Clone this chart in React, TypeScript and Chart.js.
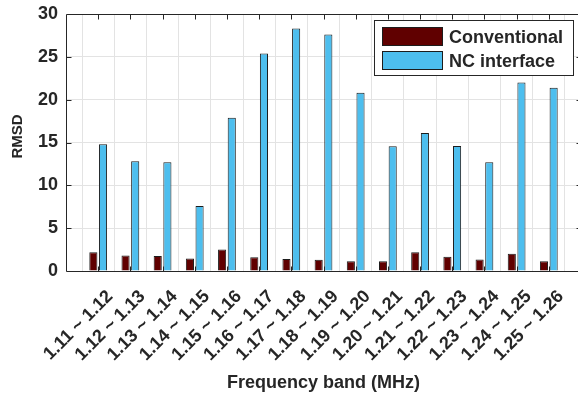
import React, { useEffect, useRef } from 'react';
import { Chart, registerables } from 'chart.js';

Chart.register(...registerables);

// Frequency bands (MHz)
const bands = [
  '1.11 ~ 1.12', '1.12 ~ 1.13', '1.13 ~ 1.14', '1.14 ~ 1.15', '1.15 ~ 1.16',
  '1.16 ~ 1.17', '1.17 ~ 1.18', '1.18 ~ 1.19', '1.19 ~ 1.20', '1.20 ~ 1.21',
  '1.21 ~ 1.22', '1.22 ~ 1.23', '1.23 ~ 1.24', '1.24 ~ 1.25', '1.25 ~ 1.26',
];

// RMSD per band
const conventional = [2.2, 1.8, 1.75, 1.45, 2.5, 1.6, 1.4, 1.3, 1.15, 1.15, 2.2, 1.65, 1.35, 2.0, 1.15];
const ncInterface = [14.8, 12.8, 12.7, 7.6, 17.9, 25.4, 28.3, 27.6, 20.8, 14.55, 16.1, 14.6, 12.7, 22.0, 21.4];

const seriesNames = ['Conventional', 'NC interface'];
const yTitle = 'RMSD';
const yMin = 0;
const yMax = 30;
const yStep = 5;

const INK = '#262626';
const FONT = '"Liberation Sans", Arial, Helvetica, sans-serif';

// Empty slots on both ends give a full band of space before the first and after the last group.
const paddedLabels = ['', ...bands, ''];
const pad = (v: number[]) => [null, ...v, null];

// Box around the axes with MATLAB-style inward tick marks.
const framePlugin = {
  id: 'frame',
  afterDatasetsDraw(chart: any) {
    const { ctx, chartArea: a, scales } = chart;
    const x = scales.x;
    const y = scales.y;
    const L = Math.round(a.left) + 0.5;
    const R = Math.round(a.right) + 0.5;
    const T = Math.round(a.top) + 0.5;
    const B = Math.round(a.bottom) + 0.5;
    const len = 5;
    ctx.save();
    ctx.strokeStyle = INK;
    ctx.lineWidth = 1;
    ctx.beginPath();
    ctx.rect(L, T, R - L, B - T);
    for (let i = 1; i <= bands.length; i++) {
      const px = Math.round(x.getPixelForValue(i)) + 0.5;
      ctx.moveTo(px, T);
      ctx.lineTo(px, T + len);
      ctx.moveTo(px, B);
      ctx.lineTo(px, B - len);
    }
    for (let v = yMin + yStep; v < yMax; v += yStep) {
      const py = Math.round(y.getPixelForValue(v)) + 0.5;
      ctx.moveTo(L, py);
      ctx.lineTo(L + len, py);
      ctx.moveTo(R, py);
      ctx.lineTo(R - len, py);
    }
    ctx.stroke();

    // Vertical axis title, placed slightly above the plot's middle
    ctx.fillStyle = INK;
    ctx.font = `bold 15px ${FONT}`;
    ctx.textAlign = 'center';
    ctx.textBaseline = 'middle';
    ctx.translate(18, a.top + (a.bottom - a.top) / 2 - 6);
    ctx.rotate(-Math.PI / 2);
    ctx.fillText(yTitle, 0, 0);
    ctx.restore();
  },
};

// Legend box in the upper right corner of the plot.
const legendPlugin = {
  id: 'boxLegend',
  afterDraw(chart: any) {
    const { ctx } = chart;
    const sets = chart.data.datasets;
    const box = { x: 374.5, y: 20.5, w: 199, h: 55 };
    ctx.save();
    ctx.fillStyle = '#ffffff';
    ctx.fillRect(box.x, box.y, box.w, box.h);
    ctx.strokeStyle = INK;
    ctx.lineWidth = 1;
    ctx.strokeRect(box.x, box.y, box.w, box.h);
    ctx.font = `bold 18px ${FONT}`;
    ctx.textAlign = 'left';
    ctx.textBaseline = 'alphabetic';
    sets.forEach((ds: any, i: number) => {
      const sy = 27.5 + i * 24;
      ctx.fillStyle = ds.backgroundColor;
      ctx.fillRect(382.5, sy, 60, 18);
      ctx.strokeStyle = ds.borderColor;
      ctx.strokeRect(382.5, sy, 60, 18);
      ctx.fillStyle = INK;
      ctx.fillText(ds.label, 449, sy + 15.5);
    });
    ctx.restore();
  },
};

export default function App() {
  const canvasRef = useRef<HTMLCanvasElement | null>(null);

  useEffect(() => {
    const canvas = canvasRef.current;
    if (!canvas) return;
    const chart = new Chart(canvas, {
      type: 'bar',
      data: {
        labels: paddedLabels,
        datasets: [
          {
            label: seriesNames[0],
            data: pad(conventional),
            backgroundColor: '#600000',
            borderColor: '#1c1c1c',
            borderWidth: 1,
            categoryPercentage: 0.6,
            barPercentage: 0.84,
          },
          {
            label: seriesNames[1],
            data: pad(ncInterface),
            backgroundColor: '#4DBEEE',
            borderColor: '#1c1c1c',
            borderWidth: 1,
            categoryPercentage: 0.6,
            barPercentage: 0.84,
          },
        ],
      },
      options: {
        responsive: false,
        animation: false,
        devicePixelRatio: 1,
        layout: { padding: { top: 14, left: 0, right: 1, bottom: 0 } },
        plugins: {
          legend: { display: false },
          tooltip: { enabled: false },
        },
        scales: {
          x: {
            type: 'category',
            offset: false,
            grid: { color: '#e3e3e3', lineWidth: 1, drawTicks: false },
            border: { display: false },
            ticks: {
              autoSkip: false,
              minRotation: 45,
              maxRotation: 45,
              padding: 15,
              labelOffset: 12,
              color: INK,
              font: { family: FONT, size: 18, weight: 'bold' },
            },
            title: {
              display: true,
              text: 'Frequency band (MHz)',
              color: INK,
              font: { family: FONT, size: 18, weight: 'bold' },
              padding: { top: 4, bottom: 4 },
            },
            afterFit(scale: any) {
              scale.height = 127;
              scale.paddingLeft = 0;
              scale.paddingRight = 0;
            },
          },
          y: {
            min: yMin,
            max: yMax,
            grid: { color: '#e3e3e3', lineWidth: 1, drawTicks: false },
            border: { display: false },
            ticks: {
              stepSize: yStep,
              padding: 8,
              color: INK,
              font: { family: FONT, size: 18, weight: 'bold' },
            },
            afterFit(scale: any) {
              scale.width = 66;
              scale.paddingTop = 0;
              scale.paddingBottom = 0;
            },
          },
        },
      },
      plugins: [framePlugin, legendPlugin],
    });
    return () => chart.destroy();
  }, []);

  return (
    <div
      style={{
        position: 'absolute',
        left: 0,
        top: 0,
        width: 578,
        height: 398,
        overflow: 'hidden',
        background: '#ffffff',
      }}
    >
      <canvas ref={canvasRef} width={582} height={398} style={{ display: 'block' }} />
    </div>
  );
}
